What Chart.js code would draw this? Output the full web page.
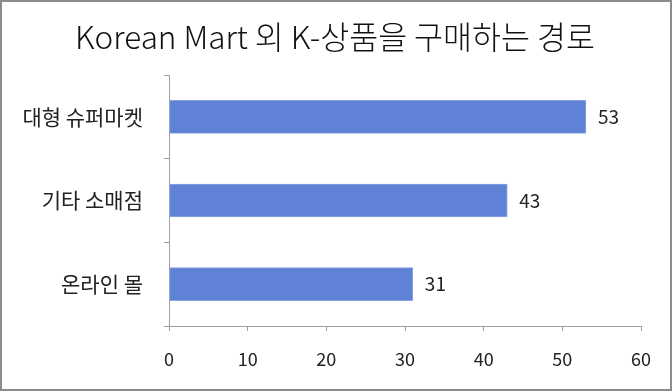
<!DOCTYPE html>
<html>
<head>
<meta charset="utf-8">
<script src="https://cdn.jsdelivr.net/npm/chart.js@4"></script>
<style>
  html, body { margin: 0; padding: 0; background: #fff; }
  #wrap { width: 672px; height: 391px; }
</style>
</head>
<body>
<div id="wrap"><canvas id="routeChart" width="672" height="391"></canvas></div>
<script>
// chart data
const titleText = "Korean Mart 외 K-상품을 구매하는 경로";
const categories = ["대형 슈퍼마켓", "기타 소매점", "온라인 몰"];
const values = [53, 43, 31];
const xMin = 0;
const xMax = 60;
const xStep = 10;

const FONT = "'Noto Sans CJK KR', 'Noto Sans', sans-serif";

// value labels at the end of each bar
const valueLabels = {
  id: "valueLabels",
  afterDatasetsDraw(chart) {
    const ctx = chart.ctx;
    const meta = chart.getDatasetMeta(0);
    ctx.save();
    ctx.font = "19px " + FONT;
    ctx.fillStyle = "#222";
    ctx.textAlign = "left";
    ctx.textBaseline = "middle";
    meta.data.forEach((bar, i) => {
      ctx.fillText(values[i], bar.x + 12, bar.y);
    });
    ctx.restore();
  },
};

// title centred on the whole picture + grey frame
const frame = {
  id: "frame",
  afterDraw(chart) {
    const ctx = chart.ctx;
    ctx.save();
    ctx.font = "300 31.5px " + FONT;
    ctx.fillStyle = "#111";
    ctx.textAlign = "center";
    ctx.textBaseline = "alphabetic";
    ctx.fillText(titleText, 335, 49);
    ctx.strokeStyle = "#8c8c8c";
    ctx.lineWidth = 2;
    ctx.strokeRect(1, 1, chart.width - 2, chart.height - 2);
    ctx.restore();
  },
};

new Chart(document.getElementById("routeChart"), {
  type: "bar",
  data: {
    labels: categories,
    datasets: [
      {
        data: values,
        backgroundColor: "#6082d6",
        borderColor: "#8aa3e3",
        borderWidth: 1,
        borderSkipped: false,
        barThickness: 33,
      },
    ],
  },
  options: {
    indexAxis: "y",
    responsive: false,
    animation: false,
    layout: { padding: { top: 75, right: 31, bottom: 0, left: 0 } },
    plugins: {
      legend: { display: false },
      tooltip: { enabled: false },
      title: { display: false },
    },
    scales: {
      x: {
        min: xMin,
        max: xMax,
        ticks: {
          stepSize: xStep,
          color: "#222",
          padding: 17,
          font: { family: FONT, size: 18 },
        },
        grid: { drawOnChartArea: false, tickLength: 5, color: "#a0a0a0" },
        border: { color: "#a0a0a0", width: 1 },
        afterFit(scale) { scale.height = 65; },
      },
      y: {
        ticks: {
          color: "#222",
          padding: 21,
          font: { family: FONT, size: 21 },
        },
        grid: { drawOnChartArea: false, tickLength: 5, color: "#a0a0a0", offset: true },
        border: { color: "#a0a0a0", width: 1 },
        afterFit(scale) { scale.width = 169; },
      },
    },
  },
  plugins: [valueLabels, frame],
});
</script>
</body>
</html>
